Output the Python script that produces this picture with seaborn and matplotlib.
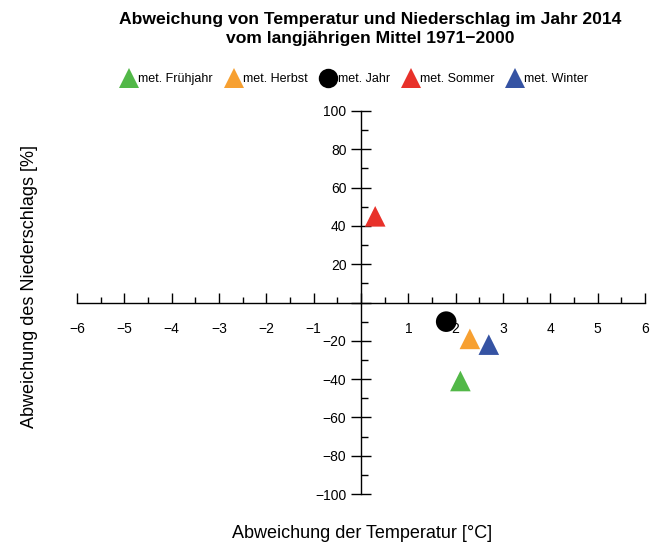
import matplotlib
matplotlib.use("Agg")
import matplotlib.pyplot as plt
from matplotlib.ticker import MultipleLocator, FuncFormatter
import seaborn as sns
import pandas as pd

seasons = ["met. Frühjahr", "met. Herbst", "met. Jahr", "met. Sommer", "met. Winter"]
temp_dev = [2.1, 2.3, 1.8, 0.3, 2.7]
precip_dev = [-41, -19, -10, 45, -22]
colors = ["#52b848", "#f7a031", "#000000", "#e8312a", "#3553a3"]
markers = ["^", "^", "o", "^", "^"]

sns.set_style("white")
plt.rcParams["font.family"] = ["Liberation Sans", "DejaVu Sans"]
plt.rcParams["text.color"] = "black"
plt.rcParams["axes.labelcolor"] = "black"
plt.rcParams["xtick.color"] = "black"
plt.rcParams["ytick.color"] = "black"

df = pd.DataFrame({"season": seasons, "x": temp_dev, "y": precip_dev})

fig = plt.figure(figsize=(6.5, 5.44), dpi=100)
ax = fig.add_axes([77 / 650, 1 - 494 / 544, (645 - 77) / 650, (494 - 111) / 544])

sns.scatterplot(data=df, x="x", y="y", hue="season", style="season",
                palette=dict(zip(seasons, colors)),
                markers=dict(zip(seasons, markers)),
                s=220, edgecolor="none", ax=ax, legend=True)

ax.set_xlim(-6, 6)
ax.set_ylim(-100, 100)
for side in ["top", "right"]:
    ax.spines[side].set_visible(False)
ax.spines["left"].set_position(("data", 0))
ax.spines["bottom"].set_position(("data", 0))
for side in ["left", "bottom"]:
    ax.spines[side].set_color("black")
    ax.spines[side].set_linewidth(1)

ax.xaxis.set_major_locator(MultipleLocator(1))
ax.xaxis.set_minor_locator(MultipleLocator(0.5))
ax.yaxis.set_major_locator(MultipleLocator(20))
ax.yaxis.set_minor_locator(MultipleLocator(10))
fmt = FuncFormatter(lambda v, p: "" if abs(v) < 1e-9 else f"{v:.0f}".replace("-", "\u2212"))
ax.xaxis.set_major_formatter(fmt)
ax.yaxis.set_major_formatter(fmt)

ax.tick_params(axis="x", which="major", direction="in", length=7, width=1, labelsize=10, pad=14)
ax.tick_params(axis="x", which="minor", direction="in", length=4, width=1)
ax.tick_params(axis="y", which="major", direction="inout", length=14, width=1, labelsize=10)
ax.tick_params(axis="y", which="minor", direction="in", length=5, width=1)
ax.tick_params(bottom=True, left=True, which="both")

ax.set_xlabel("")
ax.set_ylabel("")
fig.text(362 / 650, 1 - 533 / 544, "Abweichung der Temperatur [°C]", ha="center", va="center", fontsize=13)
fig.text(30 / 650, 1 - 287 / 544, "Abweichung des Niederschlags [%]", ha="center", va="center",
         rotation=90, fontsize=13)

fig.suptitle("Abweichung von Temperatur und Niederschlag im Jahr 2014\nvom langjährigen Mittel 1971\u22122000",
             x=370 / 650, y=1 - 12 / 544, va="top", fontsize=12.6, fontweight="bold", linespacing=1.3)

handles, labels = ax.get_legend_handles_labels()
for h in handles:
    h.set_markersize(14)
ax.legend(handles, labels, loc="center", bbox_to_anchor=(354 / 650, 1 - 79 / 544),
          bbox_transform=fig.transFigure, ncol=5, frameon=False, fontsize=9,
          handletextpad=0.0, columnspacing=0.9, handlelength=1.5)

fig.savefig("out.png", dpi=100)
plt.close(fig)
